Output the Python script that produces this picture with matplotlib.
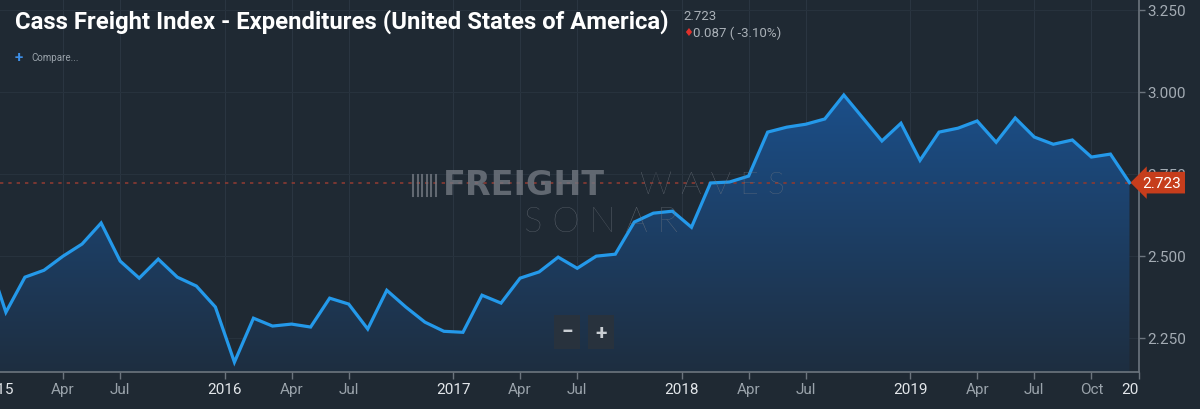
import matplotlib
matplotlib.use('Agg')
import matplotlib.pyplot as plt
import numpy as np
from matplotlib.colors import LinearSegmentedColormap
from matplotlib.transforms import Bbox, TransformedBbox, blended_transform_factory
from matplotlib.lines import Line2D

# month index: 0 = Jan 2015, -1 = Dec 2014 (just off the left edge)
month_idx = list(range(-1, 60))
expenditures = [
    2.503,
    2.328, 2.435, 2.456, 2.499, 2.536, 2.600, 2.484, 2.432, 2.490, 2.435, 2.408, 2.344,   # 2015
    2.176, 2.310, 2.286, 2.292, 2.283, 2.371, 2.353, 2.277, 2.395, 2.344, 2.298, 2.270,   # 2016
    2.267, 2.380, 2.356, 2.432, 2.451, 2.496, 2.462, 2.499, 2.505, 2.603, 2.630, 2.636,   # 2017
    2.587, 2.722, 2.725, 2.743, 2.877, 2.892, 2.901, 2.917, 2.990, 2.920, 2.850, 2.904,   # 2018
    2.791, 2.877, 2.889, 2.911, 2.846, 2.920, 2.862, 2.840, 2.853, 2.801, 2.810, 2.723,   # 2019
]

tick_pos = [-0.5, 3, 6, 11.5, 15, 18, 23.5, 27, 30, 35.5, 39, 42, 47.5, 51, 54, 57, 59.5]
tick_lbl = ['2015', 'Apr', 'Jul', '2016', 'Apr', 'Jul', '2017', 'Apr', 'Jul',
            '2018', 'Apr', 'Jul', '2019', 'Apr', 'Jul', 'Oct', '2020']
y_ticks = [2.25, 2.5, 2.75, 3.0, 3.25]

last_val = expenditures[-1]
change = last_val - expenditures[-2]
pct = change / expenditures[-2] * 100

bg = '#1f2933'
plt.rcParams['font.family'] = ['Roboto', 'DejaVu Sans']

fig = plt.figure(figsize=(12, 4.1), dpi=100, facecolor=bg)
ax = fig.add_axes([0, 37 / 410, 1139 / 1200, 373 / 410])
ax.set_facecolor(bg)
ax.set_xlim(-0.31, 59.5)
ax.set_ylim(2.146, 3.2826)

# gradient fill under the line
poly = ax.fill_between(month_idx, expenditures, 2.146, color='none', lw=0)
cmap = LinearSegmentedColormap.from_list('fw', ['#1e2e40', '#1b4f8a'])
grad = np.linspace(0, 1, 256).reshape(-1, 1)
im = ax.imshow(grad, cmap=cmap, origin='lower', aspect='auto',
               extent=[-1, 60, 2.146, 3.0], zorder=1)
im.set_clip_path(poly.get_paths()[0], transform=ax.transData)

ax.plot(month_idx, expenditures, color='#2499ea', lw=2.3, zorder=4, solid_joinstyle='miter')

# last value guide line
ax.axhline(last_val, color='#8b3a32', lw=1.2, ls=(0, (2, 3)), zorder=2)

# grid
for t in tick_pos:
    ax.axvline(t, color='#2a3541', lw=0.8, zorder=0.5)
for t in y_ticks:
    ax.axhline(t, color='#27323d', lw=0.8, zorder=0.5)

# axes styling
for s in ['top', 'left']:
    ax.spines[s].set_visible(False)
for s in ['bottom', 'right']:
    ax.spines[s].set_color('#6c757e')
    ax.spines[s].set_linewidth(1.2)
ax.yaxis.tick_right()
ax.set_yticks(y_ticks)
ax.set_yticklabels([f'{v:.3f}' for v in y_ticks])
ax.tick_params(axis='y', colors='#6c757e', labelcolor='#a3abb3', labelsize=11,
               length=4, width=1, pad=2)
ax.set_xticks([t for t in tick_pos if t >= -0.31])
ax.set_xticklabels([])
ax.tick_params(axis='x', colors='#6c757e', length=5, width=1)

# x tick labels, clipped to the plot width
clip = TransformedBbox(Bbox([[0, 0], [1139 / 1200, 1]]), fig.transFigure)
tr = blended_transform_factory(ax.transData, fig.transFigure)
for t, lbl in zip(tick_pos, tick_lbl):
    is_year = len(lbl) == 4
    txt = ax.text(t, 20 / 410, lbl, transform=tr, ha='center', va='center',
                  fontsize=11, color='#e2e6ea' if is_year else '#9aa3ab')
    txt.set_clip_box(clip)
    txt.set_clip_on(True)

# last value tag
ax.text(1.003, last_val, f'{last_val:.3f}',
        transform=blended_transform_factory(ax.transAxes, ax.transData),
        ha='left', va='center', fontsize=11, color='white', zorder=10, clip_on=False,
        bbox=dict(boxstyle='larrow,pad=0.25', fc='#c63d1c', ec='none'))

# watermark
wm = '#727881'
fig.text(443 / 1200, 1 - 186 / 410, 'FREIGHT', fontsize=24, fontweight='heavy',
         color=wm, alpha=0.8, ha='left', va='center', family=['DejaVu Sans'], zorder=3)
fig.text(712 / 1200, 1 - 186 / 410, 'W A V E S', fontsize=23, fontweight='light',
         color=wm, alpha=0.9, ha='center', va='center', family=['Lato', 'DejaVu Sans'], zorder=3)
fig.text(601 / 1200, 1 - 222 / 410, 'S O N A R', fontsize=25, fontweight='light',
         color=wm, alpha=0.85, ha='center', va='center', family=['Lato', 'DejaVu Sans'], zorder=3)
for i in range(6):
    x = (413 + i * 4.5) / 1200
    fig.add_artist(Line2D([x, x], [1 - 197 / 410, 1 - 176 / 410], color=wm, lw=1.5, alpha=0.8))

# zoom buttons
fig.text(567 / 1200, 1 - 333 / 410, '\u2212', fontsize=15, fontweight='bold', color='#c9ced3',
         ha='center', va='center', bbox=dict(boxstyle='square,pad=0.35', fc='#28323d', ec='none'))
fig.text(601 / 1200, 1 - 333 / 410, '+', fontsize=15, fontweight='bold', color='#c9ced3',
         ha='center', va='center', bbox=dict(boxstyle='square,pad=0.35', fc='#28323d', ec='none'))

# header
fig.text(15 / 1200, 1 - 22 / 410, 'Cass Freight Index - Expenditures (United States of America)',
         fontsize=17.2, fontweight='bold', color='white', ha='left', va='center',
         family=['Liberation Sans Narrow', 'Roboto', 'DejaVu Sans'])
fig.text(683 / 1200, 1 - 16 / 410, f'{last_val:.3f}', fontsize=9.5, color='#aab1b8',
         ha='left', va='center')
fig.text(683 / 1200, 1 - 33 / 410, '\u2666', fontsize=8, color='#e0312b', ha='left', va='center',
         family=['DejaVu Sans'])
fig.text(693 / 1200, 1 - 33 / 410, f'{abs(change):.3f} ( {pct:.2f}%)', fontsize=9.5,
         color='#aab1b8', ha='left', va='center')
fig.text(15 / 1200, 1 - 58 / 410, '+', fontsize=11, fontweight='bold', color='#3d8ee6',
         ha='left', va='center')
fig.text(31 / 1200, 1 - 58 / 410, 'Compare...', fontsize=7, color='#9aa3ab',
         ha='left', va='center')

fig.savefig('out.png', dpi=100, facecolor=bg)
